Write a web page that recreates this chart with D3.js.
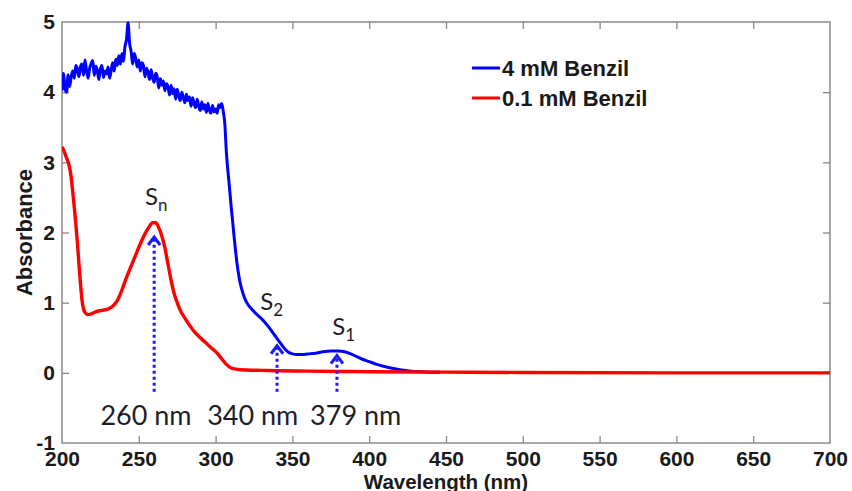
<!DOCTYPE html>
<html>
<head>
<meta charset="utf-8">
<script src="https://cdn.jsdelivr.net/npm/d3@7"></script>
<style>
  html, body { margin: 0; padding: 0; background: #fff; }
  svg { display: block; }
  .tick text { font-family: "Liberation Sans", Arial, sans-serif; font-weight: bold; font-size: 21px; fill: #1a1a1a; }
  .tick line { stroke: #8a8a8a; stroke-width: 1.3; }
</style>
</head>
<body>
<svg id="chart" width="852" height="491"></svg>
<script>
// UV-Vis absorbance spectra of benzil at two concentrations

// 4 mM Benzil: wavelength (nm) and absorbance
const blueWavelength = [
  200,201,202,203,204,205,206,207,208,209,210,211,212,213,214,215,216,217,218,219,
  220,221,222,223,224,225,226,227,228,229,230,231,232,233,234,235,236,237,238,239,
  240,241,242,243,244,245,246,247,248,249,250,251,252,253,254,255,256,257,258,259,
  260,261,262,263,264,265,266,267,268,269,270,271,272,273,274,275,276,277,278,279,
  280,281,282,283,284,285,286,287,288,289,290,291,292,293,294,295,296,297,298,299,
  300,301,302,303,304,305,306,307,308,309,310,311,312,313,314,315,316,318,320,323,
  326,329,332,335,338,341,344,347,350,353,356,360,365,370,375,380,384,388,392,396,
  400,405,410,415,420,425,430,435,440,446
];
const blueAbsorbance = [
  4.02,4.27,4.05,4.00,4.25,4.08,4.22,4.30,4.20,4.38,4.33,4.22,4.36,4.40,4.24,4.46,4.30,4.20,4.34,4.41,
  4.45,4.24,4.37,4.31,4.18,4.33,4.38,4.21,4.30,4.26,4.36,4.20,4.31,4.42,4.30,4.47,4.38,4.52,4.40,4.55,
  4.44,4.65,4.75,4.99,4.70,4.58,4.40,4.55,4.48,4.36,4.46,4.30,4.42,4.38,4.22,4.34,4.28,4.18,4.32,4.20,
  4.14,4.27,4.22,4.06,4.19,4.10,4.16,4.02,4.12,4.08,3.96,4.10,3.98,4.05,3.90,4.04,3.95,3.88,4.00,3.92,
  3.85,3.97,3.88,3.93,3.80,3.92,3.84,3.78,3.90,3.80,3.74,3.86,3.76,3.82,3.71,3.84,3.74,3.70,3.81,3.72,
  3.76,3.70,3.82,3.78,3.84,3.72,3.55,3.15,2.88,2.65,2.40,2.18,1.95,1.74,1.55,1.40,1.28,1.12,1.01,0.92,
  0.85,0.79,0.72,0.64,0.55,0.46,0.37,0.30,0.27,0.26,0.26,0.27,0.28,0.30,0.31,0.31,0.30,0.27,0.23,0.19,
  0.16,0.12,0.09,0.065,0.045,0.03,0.02,0.015,0.01,0.01
];

// 0.1 mM Benzil: wavelength (nm) and absorbance
const redWavelength = [
  200,201,202,203,204,205,206,207,208,209,210,211,212,213,214,215,217,219,222,226,
  230,233,236,239,242,245,248,251,254,257,259,261,263,265,267,269,271,273,275,277,
  280,283,286,290,294,298,301,304,307,310,314,320,330,340,360,380,400,450,500,600,
  700
];
const redAbsorbance = [
  3.22,3.18,3.12,3.06,3.00,2.92,2.78,2.58,2.36,2.12,1.86,1.56,1.28,1.04,0.91,0.86,0.83,0.84,0.87,0.89,
  0.91,0.95,1.03,1.18,1.36,1.52,1.68,1.84,1.98,2.09,2.14,2.14,2.07,1.95,1.78,1.55,1.32,1.13,1.00,0.89,
  0.78,0.68,0.59,0.50,0.42,0.34,0.28,0.20,0.12,0.07,0.05,0.04,0.035,0.03,0.025,0.02,0.015,0.01,0.005,0.0,
  0.0
];

// Axis ticks
const xTicks = [200,250,300,350,400,450,500,550,600,650,700];
const yTicks = [-1,0,1,2,3,4,5];

// Legend entries
const seriesNames = ["4 mM Benzil", "0.1 mM Benzil"];
const seriesColors = ["#0000ff", "#ff0000"];

// Transition annotations: arrow wavelength, arrow tip absorbance, state label
const transWavelength = [260, 340, 379];
const transTip = [1.95, 0.40, 0.26];
const transState = ["n", "2", "1"];
const transText = ["260 nm", "340 nm", "379 nm"];
// state label anchors (wavelength, absorbance of baseline)
const stateLabelX = [254, 329, 376];
const stateLabelY = [2.39, 0.9, 0.54];
// wavelength caption anchors
const captionX = [225, 294.5, 361.5];
const captionY = -0.74;
const arrowBase = -0.27;

const svg = d3.select("#chart");
const mLeft = 62, mRight = 830, mTop = 22, mBottom = 443;

const x = d3.scaleLinear().domain([200, 700]).range([mLeft, mRight]);
const y = d3.scaleLinear().domain([-1, 5]).range([mBottom, mTop]);

// clip to plot box
svg.append("defs").append("clipPath").attr("id", "plotClip")
  .append("rect").attr("x", mLeft).attr("y", mTop - 2)
  .attr("width", mRight - mLeft).attr("height", mBottom - mTop + 2);

// axes with inward ticks on all four sides
const tickLen = 7;
const plain = d => String(d);
const gx = svg.append("g").attr("transform", `translate(0,${mBottom})`)
  .call(d3.axisBottom(x).tickValues(xTicks).tickFormat(plain)
    .tickSizeInner(-tickLen).tickSizeOuter(0).tickPadding(8));
const gy = svg.append("g").attr("transform", `translate(${mLeft},0)`)
  .call(d3.axisLeft(y).tickValues(yTicks).tickFormat(plain)
    .tickSizeInner(-tickLen).tickSizeOuter(0).tickPadding(7));
const gt = svg.append("g").attr("transform", `translate(0,${mTop})`)
  .call(d3.axisTop(x).tickValues(xTicks).tickFormat("")
    .tickSizeInner(-tickLen).tickSizeOuter(0));
const gr = svg.append("g").attr("transform", `translate(${mRight},0)`)
  .call(d3.axisRight(y).tickValues(yTicks).tickFormat("")
    .tickSizeInner(-tickLen).tickSizeOuter(0));
[gx, gy, gt, gr].forEach(g => { g.select(".domain").remove(); g.attr("font-size", null).attr("font-family", null); });
// drop ticks that would sit on the frame corners
gx.selectAll(".tick line").filter(d => d === 200 || d === 700).remove();
gt.selectAll(".tick line").filter(d => d === 200 || d === 700).remove();
gy.selectAll(".tick line").filter(d => d === -1 || d === 5).remove();
gr.selectAll(".tick line").filter(d => d === -1 || d === 5).remove();

// frame
svg.append("rect")
  .attr("x", mLeft).attr("y", mTop)
  .attr("width", mRight - mLeft).attr("height", mBottom - mTop)
  .attr("fill", "none").attr("stroke", "#8a8a8a").attr("stroke-width", 1.5);

// axis titles
svg.append("text")
  .attr("transform", `translate(${24},${(mTop + mBottom) / 2}) rotate(-90)`)
  .attr("text-anchor", "middle").attr("dominant-baseline", "central")
  .attr("font-family", "Liberation Sans, Arial, sans-serif")
  .attr("font-weight", "bold").attr("font-size", 22).attr("fill", "#1a1a1a")
  .text("Absorbance");
svg.append("text")
  .attr("x", (mLeft + mRight) / 2).attr("y", 488.5)
  .attr("text-anchor", "middle")
  .attr("font-family", "Liberation Sans, Arial, sans-serif")
  .attr("font-weight", "bold").attr("font-size", 20.5).attr("fill", "#1a1a1a")
  .text("Wavelength (nm)");

// spectra
const line = d3.line().x(d => x(d[0])).y(d => y(d[1])).curve(d3.curveMonotoneX);
const plot = svg.append("g").attr("clip-path", "url(#plotClip)");
plot.append("path")
  .datum(blueWavelength.map((w, i) => [w, blueAbsorbance[i]]))
  .attr("d", line).attr("fill", "none")
  .attr("stroke", seriesColors[0]).attr("stroke-width", 3).attr("stroke-linejoin", "round");
plot.append("path")
  .datum(redWavelength.map((w, i) => [w, redAbsorbance[i]]))
  .attr("d", line).attr("fill", "none")
  .attr("stroke", seriesColors[1]).attr("stroke-width", 3.4).attr("stroke-linejoin", "round");

// dotted arrows marking transitions
const arrowColor = "#1a1aff";
const ann = svg.append("g");
transWavelength.forEach((w, i) => {
  const ax = x(w), tipY = y(transTip[i]);
  ann.append("line")
    .attr("x1", ax).attr("x2", ax)
    .attr("y1", y(arrowBase)).attr("y2", tipY + 2)
    .attr("stroke", arrowColor).attr("stroke-width", 3)
    .attr("stroke-dasharray", "3,3");
  ann.append("path")
    .attr("d", `M${ax - 6},${tipY + 9} L${ax},${tipY + 1} L${ax + 6},${tipY + 9}`)
    .attr("fill", "none").attr("stroke", arrowColor).attr("stroke-width", 3)
    .attr("stroke-linejoin", "miter");

  // state label S with subscript
  const t = ann.append("text")
    .attr("x", x(stateLabelX[i])).attr("y", y(stateLabelY[i]))
    .attr("font-family", "Lato, 'Open Sans', sans-serif")
    .attr("font-size", 24).attr("fill", "#1e1e2a");
  t.append("tspan").text("S");
  t.append("tspan").attr("font-size", 17).attr("dy", 6).text(transState[i]);

  // wavelength caption
  ann.append("text")
    .attr("x", x(captionX[i])).attr("y", y(captionY))
    .attr("font-family", "Lato, 'Open Sans', sans-serif")
    .attr("font-size", 27).attr("fill", "#1e1e2a")
    .text(transText[i]);
});

// legend
const legend = svg.append("g");
seriesNames.forEach((name, i) => {
  const ly = 68 + i * 30;
  legend.append("line")
    .attr("x1", 472).attr("x2", 500).attr("y1", ly).attr("y2", ly)
    .attr("stroke", seriesColors[i]).attr("stroke-width", 3);
  legend.append("text")
    .attr("x", 502).attr("y", ly).attr("dominant-baseline", "central")
    .attr("font-family", "Liberation Sans, Arial, sans-serif")
    .attr("font-weight", "bold").attr("font-size", 22).attr("fill", "#1a1a1a")
    .text(name);
});
</script>
</body>
</html>
